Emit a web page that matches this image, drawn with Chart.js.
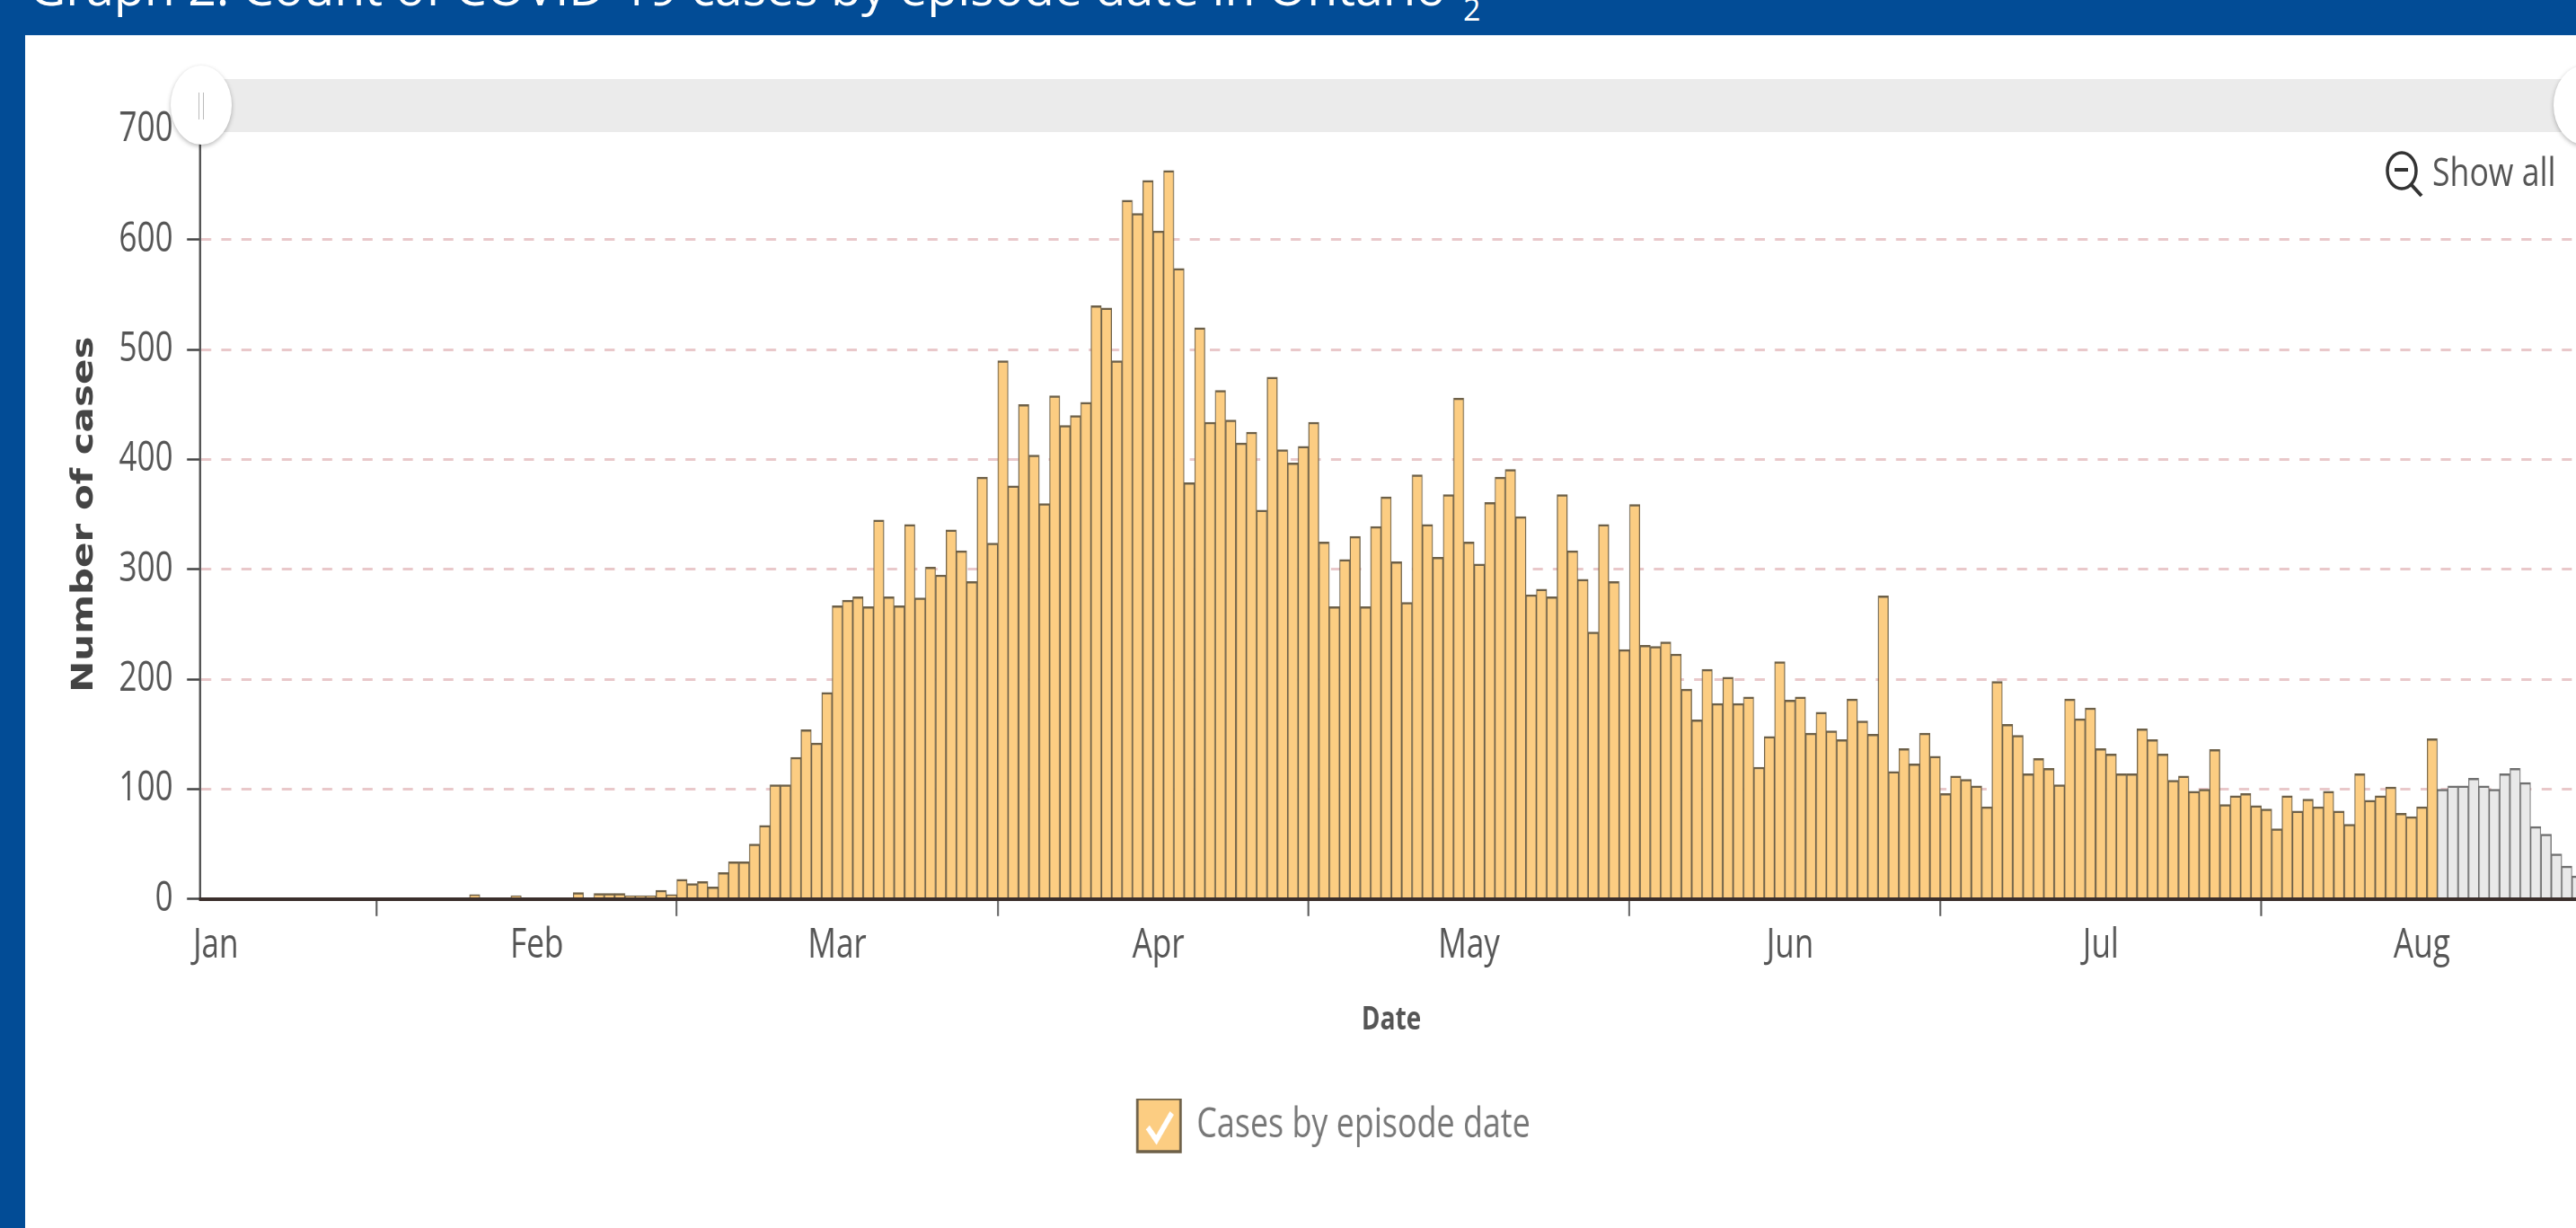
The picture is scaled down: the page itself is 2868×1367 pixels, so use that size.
<!DOCTYPE html>
<html>
<head>
<meta charset="utf-8">
<title>Graph 2</title>
<script src="https://cdn.jsdelivr.net/npm/chart.js@4"></script>
<style>
  html, body { margin: 0; padding: 0; width: 2868px; height: 1367px; overflow: hidden; background: #024c96; }
  #panel { position: absolute; left: 28px; top: 39px; right: 0; bottom: 0; background: #fff; border-top: 1px solid #cfe0f0; box-sizing: border-box; }
  #heading { position: absolute; left: 33px; top: -45px; font: 54px/60px "Open Sans", sans-serif; color: #fff; white-space: nowrap; transform-origin: 0 0; transform: scaleX(1.027); }
  #sub { position: absolute; left: 1629px; top: -20px; font: 34px/60px "Open Sans", sans-serif; color: #fff; }
  #wrap { position: absolute; left: 0; top: 0; transform-origin: 0 0; transform: scaleX(0.78); }
  #track { position: absolute; left: 224px; top: 88px; width: 2660px; height: 59px; background: #ebebeb; }
  .handle { position: absolute; top: 73px; width: 68px; height: 88px; border-radius: 50%; background: #fff; box-shadow: 0 2px 5px rgba(0,0,0,.28); }
  .handle i { position: absolute; top: 30px; width: 1px; height: 30px; background: #bbb; }
  #showall { position: absolute; left: 2708px; top: 160px; font: 44px/60px "Open Sans", sans-serif; color: #555; white-space: nowrap; transform-origin: 0 0; transform: scaleX(0.81); }
  #zoomicon { position: absolute; left: 2650px; top: 164px; }
</style>
</head>
<body>
<div id="heading">Graph 2: Count of COVID-19 cases by episode date in Ontario</div>
<div id="sub">2</div>
<div id="panel"></div>
<div id="wrap"><canvas id="cases" width="3686" height="1367"></canvas></div>
<div id="track"></div>
<div class="handle" style="left:190px"><i style="left:31px"></i><i style="left:36px"></i></div>
<div class="handle" style="left:2843px"></div>
<svg id="zoomicon" width="52" height="60" viewBox="0 0 52 60">
  <ellipse cx="24" cy="26" rx="16" ry="20" fill="none" stroke="#333" stroke-width="3.5"/>
  <line x1="16" y1="25" x2="31" y2="25" stroke="#333" stroke-width="4"/>
  <line x1="35" y1="42" x2="46" y2="54" stroke="#333" stroke-width="4"/>
</svg>
<div id="showall">Show all</div>
<script>
const monthNames = ['Jan', 'Feb', 'Mar', 'Apr', 'May', 'Jun', 'Jul', 'Aug'];
const monthLengths = [31, 29, 31, 30, 31, 30, 31, 31];
const firstDay = 15;

// daily counts, Jan 15 to Aug 31
const janCases = [0, 0, 0, 0, 0, 0, 0, 0, 1, 0, 1, 0, 0, 0, 0, 0, 0];
const febCases = [0, 0, 0, 1, 1, 0, 1, 1, 1, 4, 1, 1, 1, 3, 1, 1, 1, 1, 1, 6, 1, 5, 5, 5, 3, 3, 3, 8, 4];
const marCases = [18, 14, 16, 11, 24, 34, 34, 50, 67, 104, 104, 129, 154, 142, 188, 267, 272, 275, 266, 345, 275, 267, 341, 274, 302, 295, 336, 317, 289, 384, 324];
const aprCases = [490, 376, 450, 404, 360, 458, 431, 440, 452, 540, 538, 490, 636, 624, 654, 608, 663, 574, 379, 520, 434, 463, 436, 415, 425, 354, 475, 409, 397, 412];
const mayCases = [434, 325, 266, 309, 330, 266, 339, 366, 307, 270, 386, 341, 311, 368, 456, 325, 305, 361, 384, 391, 348, 277, 282, 275, 368, 317, 291, 243, 341, 289, 227];
const junCases = [359, 231, 230, 234, 223, 191, 163, 209, 178, 202, 178, 184, 120, 148, 216, 181, 184, 151, 170, 153, 145, 182, 162, 150, 276, 116, 137, 123, 151, 130];
const julCases = [96, 112, 109, 103, 84, 198, 159, 149, 114, 128, 119, 104, 182, 164, 174, 137, 132, 114, 114, 155, 145, 132, 108, 112, 98, 100, 136, 86, 94, 96, 85];
const augCases = [82, 64, 94, 80, 91, 84, 98, 80, 68, 114, 90, 94, 102, 78, 75, 84, 146];
// grey bars at the end, Aug 18 to Aug 31
const recentCases = [100, 103, 103, 110, 103, 100, 114, 119, 106, 66, 59, 41, 30, 21];

const tickLabels = ['Jan', 'Feb', 'Mar', 'Apr', 'May', 'Jun', 'Jul', 'Aug'];
const tickLabelDays = ['Jan 16', 'Feb 16', 'Mar 16', 'Apr 16', 'May 16', 'Jun 16', 'Jul 16', 'Aug 16'];
const tickMarkDays = ['Feb 1', 'Mar 1', 'Apr 1', 'May 1', 'Jun 1', 'Jul 1', 'Aug 1'];
const yTicks = [0, 100, 200, 300, 400, 500, 600, 700];

// the whole source picture is squeezed sideways, the canvas gets the same squeeze
const squeeze = 0.78;
const legendShift = 16;

const days = [];
monthNames.forEach((m, i) => {
  for (let d = i === 0 ? firstDay : 1; d <= monthLengths[i]; d++) days.push(m + ' ' + d);
});

const confirmed = [...janCases, ...febCases, ...marCases, ...aprCases, ...mayCases, ...junCases, ...julCases, ...augCases];
const recent = new Array(confirmed.length).fill(null).concat(recentCases);

// nudges the legend and puts the white tick on its box
const legendCheck = {
  id: 'legendCheck',
  afterLayout(chart) {
    const lg = chart.legend;
    lg.left += legendShift;
    lg.right += legendShift;
    lg.legendHitBoxes.forEach(b => { b.left += legendShift; });
  },
  afterDraw(chart) {
    const box = chart.legend.legendHitBoxes[0];
    if (!box) return;
    const ctx = chart.ctx;
    const x = box.left, y = box.top + (box.height - 59) / 2, w = 48 / squeeze;
    ctx.save();
    ctx.strokeStyle = '#fff';
    ctx.lineWidth = 7;
    ctx.beginPath();
    ctx.moveTo(x + w * 0.24, y + 32);
    ctx.lineTo(x + w * 0.44, y + 46);
    ctx.lineTo(x + w * 0.8, y + 16);
    ctx.stroke();
    ctx.restore();
  }
};

new Chart(document.getElementById('cases'), {
  type: 'bar',
  plugins: [legendCheck],
  data: {
    labels: days,
    datasets: [
      {
        label: 'Cases by episode date',
        data: confirmed,
        backgroundColor: '#fccd82',
        borderColor: '#6d6048',
        borderWidth: { top: 2.5, left: 1.5, right: 1.5, bottom: 0 },
        borderSkipped: false
      },
      {
        label: 'Recent',
        data: recent,
        backgroundColor: '#e9e9e9',
        borderColor: '#707070',
        borderWidth: { top: 2.5, left: 1.5, right: 1.5, bottom: 0 },
        borderSkipped: false
      }
    ]
  },
  options: {
    responsive: false,
    animation: false,
    devicePixelRatio: 1,
    layout: { padding: { left: 70 / squeeze, top: 144.6, right: 0, bottom: 75 } },
    datasets: { bar: { grouped: false, categoryPercentage: 1, barPercentage: 1 } },
    plugins: {
      tooltip: { enabled: false },
      legend: {
        position: 'bottom',
        labels: {
          boxWidth: 48 / squeeze,
          boxHeight: 59,
          padding: 0,
          color: '#777',
          font: { family: 'Open Sans', size: 46 },
          generateLabels(chart) {
            const items = Chart.defaults.plugins.legend.labels.generateLabels(chart);
            return items.filter(it => it.datasetIndex === 0).map(it => ({ ...it, lineWidth: 3.5 }));
          }
        }
      }
    },
    scales: {
      x: {
        border: { color: '#3b2f2c', width: 4, z: 1 },
        grid: {
          drawOnChartArea: false,
          offset: true,
          tickLength: 19,
          tickWidth: 2.5,
          tickColor: ctx => tickMarkDays.indexOf(days[ctx.index]) >= 0 ? '#555' : 'transparent'
        },
        ticks: {
          autoSkip: false,
          maxRotation: 0,
          minRotation: 0,
          padding: 6,
          color: '#555',
          font: { family: 'Open Sans', size: 45 },
          callback: (v, i) => {
            const at = tickLabelDays.indexOf(days[i]);
            return at >= 0 ? tickLabels[at] : '';
          }
        },
        title: {
          display: true,
          text: 'Date',
          color: '#555',
          font: { family: 'Open Sans', size: 36, weight: 'bold' },
          padding: { top: 28, bottom: 66 }
        }
      },
      y: {
        min: 0,
        max: 700,
        afterFit: s => { s.width = (223 - 70) / squeeze; },
        afterBuildTicks: s => { s.ticks = yTicks.map(v => ({ value: v })); },
        border: { color: '#555', width: 3, dash: [14.4, 14.4] },
        grid: {
          color: '#e9c8ca',
          lineWidth: 3,
          tickLength: 19,
          tickColor: '#444',
          tickWidth: 2.5,
          tickBorderDash: []
        },
        ticks: {
          padding: 20,
          color: '#555',
          font: { family: 'Open Sans', size: 45 }
        },
        title: {
          display: true,
          text: 'Number of cases',
          color: '#444',
          font: { family: 'DejaVu Sans', size: 42, weight: 'bold' },
          padding: { top: 6, bottom: 0 }
        }
      }
    }
  }
});
</script>
</body>
</html>
